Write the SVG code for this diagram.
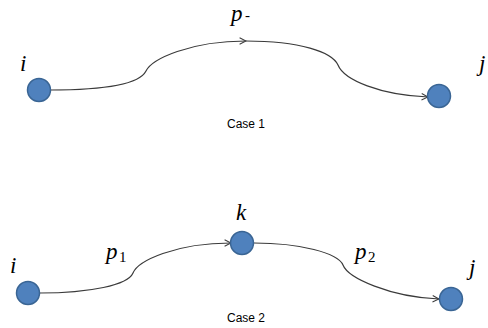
<svg xmlns="http://www.w3.org/2000/svg" width="488" height="328" viewBox="0 0 488 328">
<style>
.node{fill:#4F81BD;stroke:#3A6594;stroke-width:1.5}
.edge{fill:none;stroke:#3a3a3a;stroke-width:1.2}
.lbl{font-family:"Liberation Serif",serif;font-style:italic;font-size:23px;fill:#000}
.sub{font-family:"Liberation Serif",serif;font-size:15px;fill:#000}
.cap{font-family:"Liberation Sans",sans-serif;font-size:12px;fill:#000;text-anchor:middle}
</style>
<defs>
<marker id="arr" viewBox="0 0 10 10" refX="9" refY="5" markerWidth="8" markerHeight="8" markerUnits="userSpaceOnUse" orient="auto">
<path d="M1,1 L9,5 L1,9" fill="none" stroke="#3a3a3a" stroke-width="1.3"/>
</marker>
</defs>
<rect width="488" height="328" fill="#fff"/>
<g id="connectors">
<path class="edge" d="M50,90 C110,90 140,83 146,71 C152,59 190,41 246,41" marker-end="url(#arr)"/>
<path class="edge" d="M246,41 C300,41 332,52 338,65 C344,80 380,95 428,97" marker-end="url(#arr)"/>
<path class="edge" d="M40,293 C90,293 128,285 133,273 C138,261 175,243 231,243" marker-end="url(#arr)"/>
<path class="edge" d="M254,243 C300,243 338,253 343,265 C348,278 390,297 439,299" marker-end="url(#arr)"/>
</g>
<g id="case1-i"><circle class="node" cx="39" cy="90" r="11.5"/><text class="lbl" x="20" y="71">i</text></g>
<g id="case1-j"><circle class="node" cx="439" cy="96" r="11.5"/><text class="lbl" x="479" y="71">j</text></g>
<g id="case1-p"><text class="lbl" x="231" y="21">p</text><text class="sub" x="245" y="20" font-size="11">-</text></g>
<text class="cap" x="246" y="128">Case 1</text>
<g id="case2-i"><circle class="node" cx="28" cy="293" r="11.5"/><text class="lbl" x="10" y="273">i</text></g>
<g id="case2-k"><circle class="node" cx="242" cy="243" r="11.5"/><text class="lbl" x="236" y="220">k</text></g>
<g id="case2-j"><circle class="node" cx="451" cy="299" r="11.5"/><text class="lbl" x="469" y="275">j</text></g>
<g id="case2-p1"><text class="lbl" x="106" y="259">p</text><text class="sub" x="119" y="262">1</text></g>
<g id="case2-p2"><text class="lbl" x="355" y="259">p</text><text class="sub" x="368" y="262">2</text></g>
<text class="cap" x="246" y="322">Case 2</text>
</svg>
